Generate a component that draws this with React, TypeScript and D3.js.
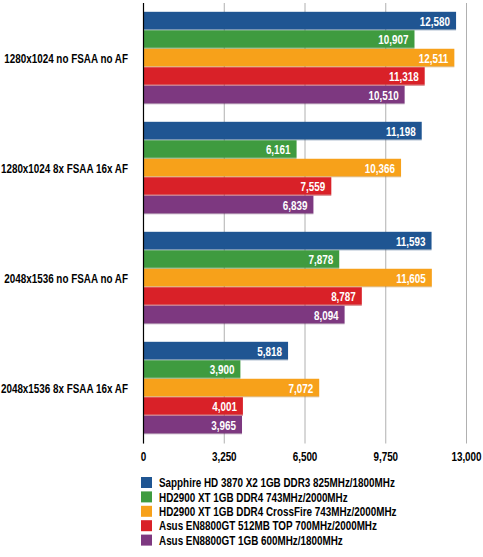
import React from "react";
import * as d3 from "d3";

const categories = [
  "1280x1024 no FSAA no AF",
  "1280x1024 8x FSAA 16x AF",
  "2048x1536 no FSAA no AF",
  "2048x1536 8x FSAA 16x AF",
];
const seriesNames = [
  "Sapphire HD 3870 X2 1GB DDR3 825MHz/1800MHz",
  "HD2900 XT 1GB DDR4 743MHz/2000MHz",
  "HD2900 XT 1GB DDR4 CrossFire 743MHz/2000MHz",
  "Asus EN8800GT 512MB TOP 700MHz/2000MHz",
  "Asus EN8800GT 1GB 600MHz/1800MHz",
];
const seriesColors = ["#1f5592", "#3f9b3f", "#f7a11a", "#d92128", "#7d3880"];
const sapphire = [12580, 11198, 11593, 5818];
const hd2900 = [10907, 6161, 7878, 3900];
const hd2900cf = [12511, 10366, 11605, 7072];
const en8800top = [11318, 7559, 8787, 4001];
const en8800 = [10510, 6839, 8094, 3965];
const seriesValues = [sapphire, hd2900, hd2900cf, en8800top, en8800];
const tickValues = [0, 3250, 6500, 9750, 13000];

const FONT = "'Liberation Sans', Arial, sans-serif";
const SX = 0.76;

function T({ x, y, anchor = "start", fill = "#000", children }: any) {
  return (
    <text
      transform={`translate(${x},${y}) scale(${SX},1)`}
      dy="0.36em"
      textAnchor={anchor}
      fontSize={13}
      fontWeight="bold"
      fill={fill}
    >
      {children}
    </text>
  );
}

export default function App() {
  const W = 483, H = 557;
  const left = 143.5, right = 466.5, top = 3, bottom = 443;
  const x = d3.scaleLinear().domain([0, 13000]).range([left, right]);
  const y0 = d3.scaleBand().domain(categories).range([top, bottom]).paddingInner(0.16).paddingOuter(0.08);
  const y1 = d3.scaleBand().domain(seriesNames.map((_, i) => String(i))).range([0, y0.bandwidth()]);
  const fmt = d3.format(",");
  return (
    <svg width={W} height={H} style={{ position: "absolute", left: 0, top: 0, background: "#fff" }} fontFamily={FONT}>
      {tickValues.map((t) => (
        <line key={"g" + t} x1={x(t)} x2={x(t)} y1={top} y2={bottom + 0.5} stroke="#b0b0b0" strokeWidth={1} />
      ))}
      {categories.map((c, ci) => (
        <g key={c}>
          {seriesValues.map((vals, si) => {
            const yy = (y0(c) as number) + (y1(String(si)) as number);
            const h = y1.bandwidth();
            return (
              <g key={si}>
                <rect x={x(0)} y={yy} width={x(vals[ci]) - x(0)} height={h - 1} fill={seriesColors[si]} />
                <rect x={x(0)} y={yy + h - 1} width={x(vals[ci]) - x(0)} height={1} fill={d3.color(seriesColors[si])!.darker(0.6).toString()} opacity={0.6} />
                <T x={x(vals[ci]) - 6} y={yy + h / 2} anchor="end" fill="#fff">
                  {fmt(vals[ci])}
                </T>
              </g>
            );
          })}
          <T x={128} y={(y0(c) as number) + y0.bandwidth() / 2} anchor="end">
            {c}
          </T>
        </g>
      ))}
      <line x1={x(0)} x2={x(0)} y1={top} y2={bottom + 0.5} stroke="#000" strokeWidth={1.2} />
      {tickValues.map((t) => (
        <T key={"t" + t} x={x(t)} y={456} anchor="middle">
          {fmt(t)}
        </T>
      ))}
      {seriesNames.map((n, i) => (
        <g key={n} transform={`translate(141, ${477 + i * 14.4})`}>
          <rect x={0} y={0} width={11} height={11} fill={seriesColors[i]} />
          <T x={18} y={5.5}>
            {n}
          </T>
        </g>
      ))}
    </svg>
  );
}
